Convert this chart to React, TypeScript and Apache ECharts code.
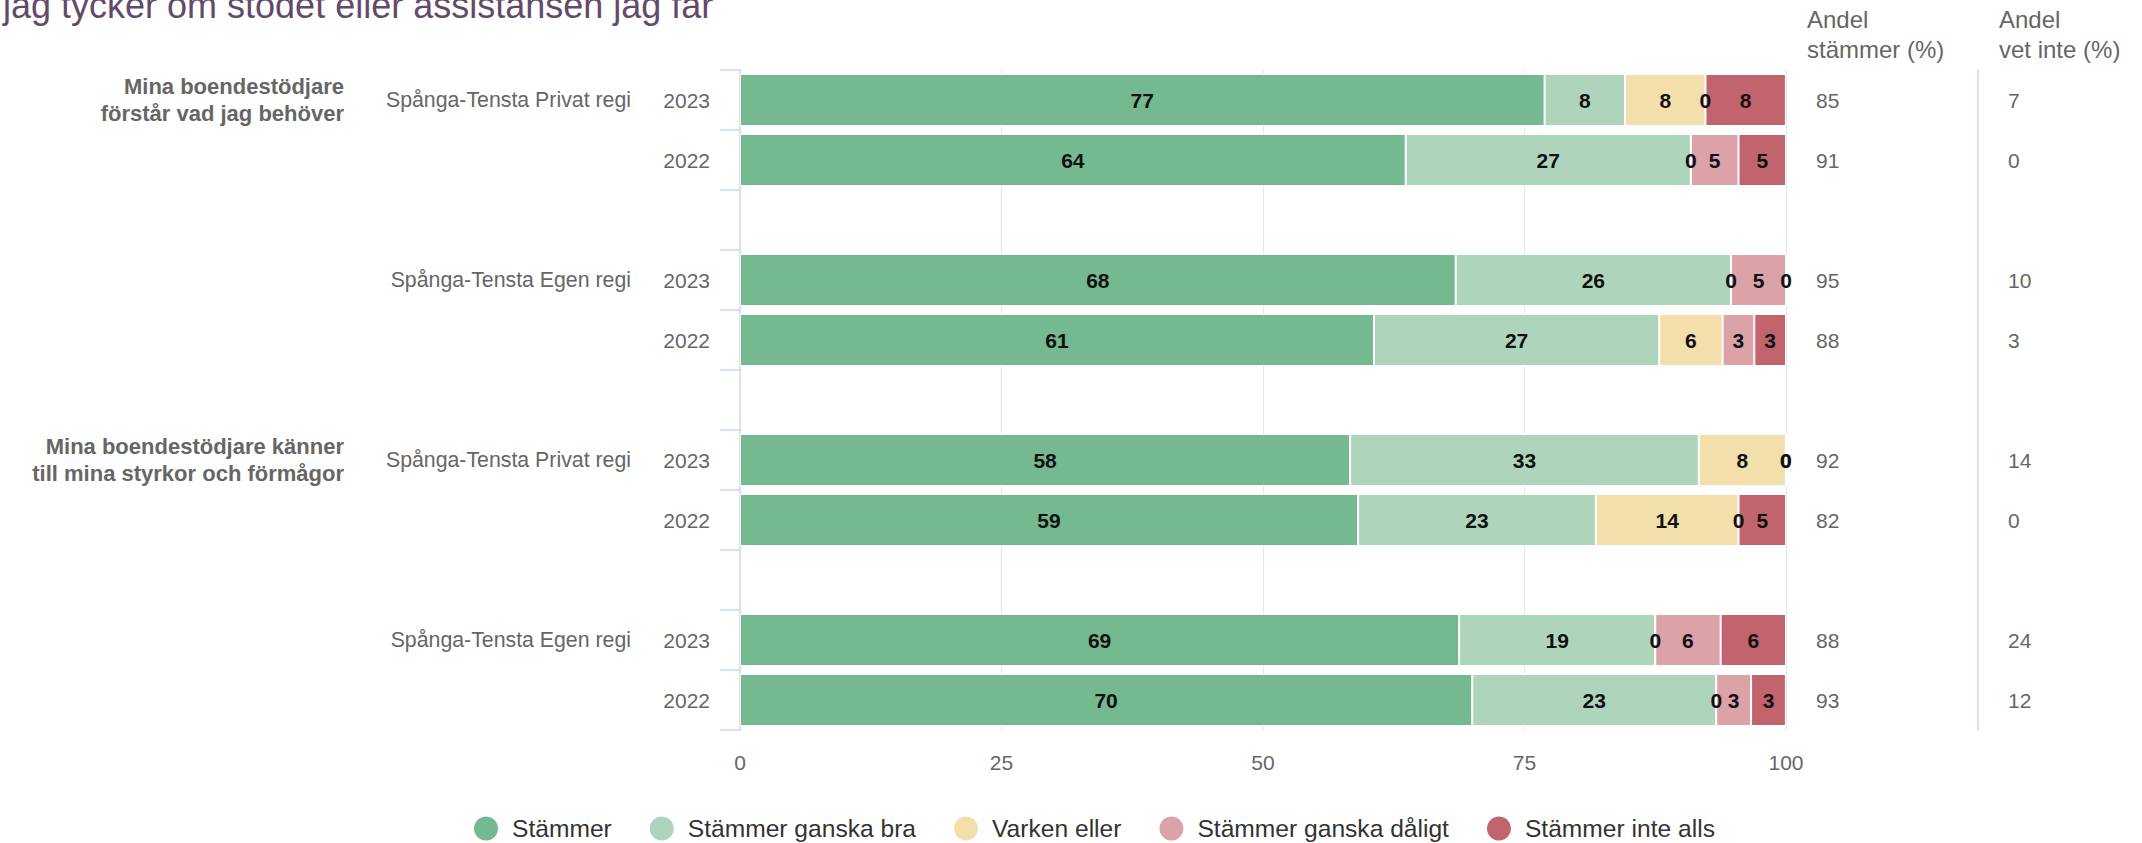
import React, { useEffect, useRef } from 'react';
import * as echarts from 'echarts';

const FONT = "'Liberation Sans', Arial, Helvetica, sans-serif";

const titleText = 'jag tycker om stödet eller assistansen jag får';
const columnHeaders = ['Andel\nstämmer (%)', 'Andel\nvet inte (%)'];

const seriesNames = ['Stämmer', 'Stämmer ganska bra', 'Varken eller', 'Stämmer ganska dåligt', 'Stämmer inte alls'];
const seriesColors = ['#75b990', '#aed5bc', '#f3dfac', '#dba2a8', '#c2646e'];

// one entry per bar row (top to bottom)
const years = ['2023', '2022', '2023', '2022', '2023', '2022', '2023', '2022'];
const units = ['Spånga-Tensta Privat regi', '', 'Spånga-Tensta Egen regi', '', 'Spånga-Tensta Privat regi', '', 'Spånga-Tensta Egen regi', ''];
const questions = [
  'Mina boendestödjare\nförstår vad jag behöver', '', '', '',
  'Mina boendestödjare känner\ntill mina styrkor och förmågor', '', '', '',
];

const stammer = [76.92, 63.64, 68.42, 60.61, 58.33, 59.09, 68.75, 70.0];
const ganskaBra = [7.69, 27.27, 26.32, 27.27, 33.33, 22.73, 18.75, 23.33];
const varkenEller = [7.69, 0, 0, 6.06, 8.33, 13.64, 0, 0];
const ganskaDaligt = [0, 4.55, 5.26, 3.03, 0, 0, 6.25, 3.33];
const inteAlls = [7.69, 4.55, 0, 3.03, 0, 4.55, 6.25, 3.33];

const andelStammer = [85, 91, 95, 88, 92, 82, 88, 93];
const andelVetInte = [7, 0, 10, 3, 14, 0, 24, 12];

const xMin = 0;
const xMax = 100;
const xInterval = 25;

// insert an empty category after each pair of rows (between groups)
function withGaps<T>(arr: T[], gap: T): T[] {
  const out: T[] = [];
  arr.forEach((v, i) => {
    out.push(v);
    if (i % 2 === 1 && i < arr.length - 1) out.push(gap);
  });
  return out;
}

export default function App() {
  const ref = useRef<HTMLDivElement>(null);

  useEffect(() => {
    if (!ref.current) return;
    const chart = echarts.init(ref.current, null, { renderer: 'svg' });
    const values = [stammer, ganskaBra, varkenEller, ganskaDaligt, inteAlls];

    const hiddenAxisBase = {
      type: 'category' as const,
      inverse: true,
      axisTick: { show: false },
      splitLine: { show: false },
    };

    const option: any = {
      animation: false,
      backgroundColor: '#ffffff',
      textStyle: { fontFamily: FONT },
      grid: { left: 740, right: 356, top: 70, bottom: 113, containLabel: false, outerBoundsMode: 'none' },
      legend: {
        show: true,
        left: 469,
        top: 811,
        itemWidth: 24,
        itemHeight: 24,
        itemGap: 38,
        icon: 'circle',
        data: seriesNames,
        itemStyle: { borderWidth: 0 },
        textStyle: { fontSize: 24.6, color: '#333333', fontFamily: FONT, padding: [0, 0, 0, 9] },
      },
      xAxis: {
        type: 'value',
        min: xMin,
        max: xMax,
        interval: xInterval,
        axisLine: { show: false },
        axisTick: { show: false },
        splitLine: { show: true, lineStyle: { color: '#e6e6e6', width: 1 } },
        axisLabel: { color: '#666666', fontSize: 21, margin: 22, fontFamily: FONT },
      },
      yAxis: [
        {
          type: 'category',
          data: withGaps(years, ''),
          inverse: true,
          position: 'left',
          axisLine: { show: true, onZero: false, lineStyle: { color: '#d8dde6', width: 1.5 } },
          axisTick: { show: true, length: 20, interval: 0, lineStyle: { color: '#ccd6eb', width: 1.5 } },
          axisLabel: { margin: 30, color: '#666666', fontSize: 21, interval: 0, fontFamily: FONT },
        },
        {
          ...hiddenAxisBase,
          data: withGaps(andelStammer.map(String), ''),
          position: 'right',
          offset: 0,
          axisLine: { show: false, onZero: false },
          axisLabel: { margin: 30, align: 'left', color: '#666666', fontSize: 21, interval: 0, fontFamily: FONT },
        },
        {
          ...hiddenAxisBase,
          data: withGaps(andelVetInte.map(String), ''),
          position: 'right',
          offset: 192,
          axisLine: { show: true, onZero: false, lineStyle: { color: '#ccd6eb', width: 1.5 } },
          axisLabel: { margin: 30, align: 'left', color: '#666666', fontSize: 21, interval: 0, fontFamily: FONT },
        },
        {
          ...hiddenAxisBase,
          data: withGaps(units, ''),
          position: 'left',
          offset: 0,
          axisLine: { show: false, onZero: false },
          axisLabel: { margin: 109, align: 'right', color: '#666666', fontSize: 21.3, interval: 0, fontFamily: FONT },
        },
        {
          ...hiddenAxisBase,
          data: withGaps(questions, ''),
          position: 'left',
          offset: 0,
          axisLine: { show: false, onZero: false },
          axisLabel: {
            margin: 396, align: 'right', color: '#666666', fontSize: 22, fontWeight: 'bold',
            lineHeight: 27, interval: 0, fontFamily: FONT,
          },
        },
      ],
      series: seriesNames.map((name, k) => ({
        type: 'bar',
        name,
        stack: 'total',
        yAxisIndex: 0,
        barWidth: 52,
        data: withGaps<number | string>(values[k], '-'),
        itemStyle: { color: seriesColors[k], borderColor: '#ffffff', borderWidth: 1 },
        emphasis: { disabled: true },
        label: {
          show: true,
          position: 'inside',
          color: '#111111',
          fontWeight: 'bold',
          fontSize: 21,
          fontFamily: FONT,
          formatter: (p: any) => String(Math.round(Number(p.value))),
        },
      })),
      graphic: [
        {
          type: 'text',
          x: 3,
          y: 5,
          style: { text: titleText, fontSize: 36, fill: '#634a6b', fontFamily: FONT, verticalAlign: 'middle' },
        },
        {
          type: 'text',
          x: 1807,
          y: 4,
          style: { text: columnHeaders[0], fontSize: 24, lineHeight: 30, fill: '#666666', fontFamily: FONT, verticalAlign: 'top' },
        },
        {
          type: 'text',
          x: 1999,
          y: 4,
          style: { text: columnHeaders[1], fontSize: 24, lineHeight: 30, fill: '#666666', fontFamily: FONT, verticalAlign: 'top' },
        },
      ],
    };

    chart.setOption(option);
    return () => chart.dispose();
  }, []);

  return (
    <div
      ref={ref}
      style={{ position: 'fixed', left: 0, top: 0, width: 2142, height: 843, background: '#ffffff' }}
    />
  );
}
